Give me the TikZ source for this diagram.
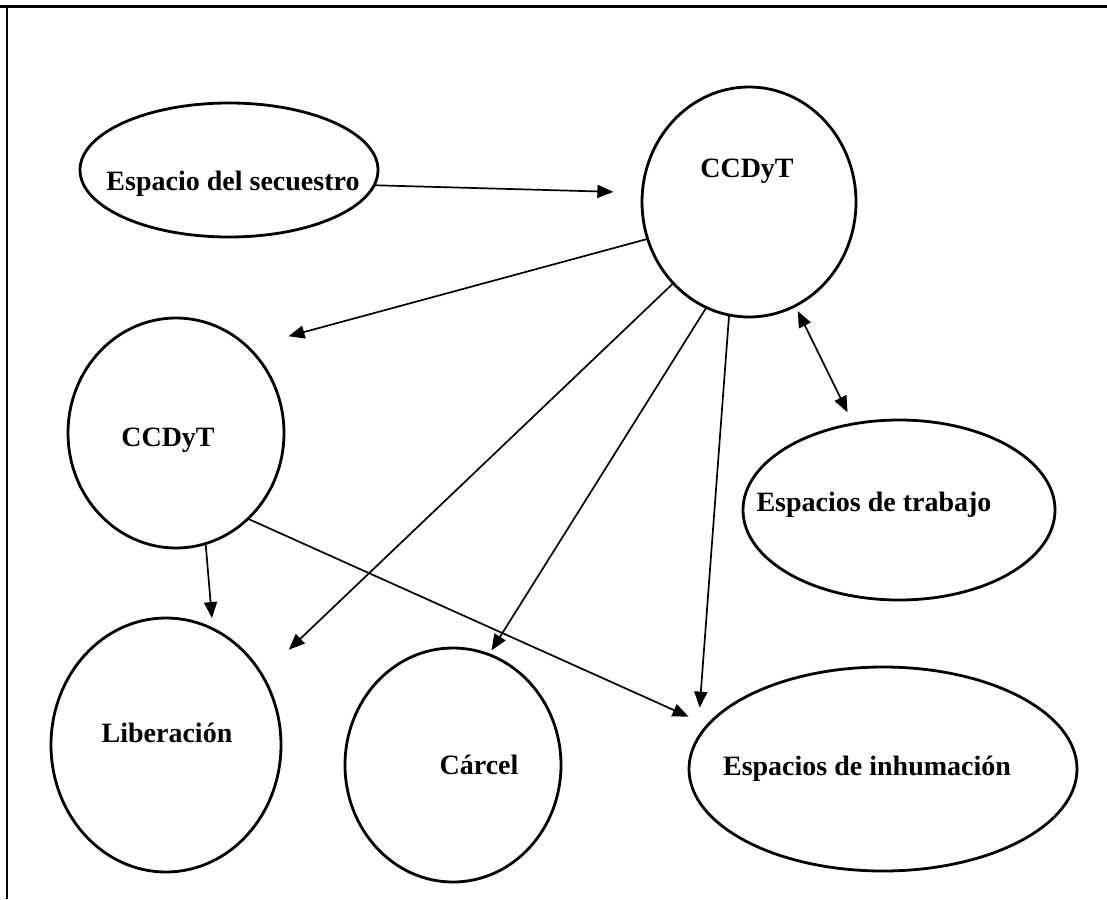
\documentclass[tikz,border=0pt]{standalone}
\usepackage{fontspec}
\setmainfont{Liberation Serif}
\usetikzlibrary{shapes.geometric,arrows.meta}
\begin{document}
\begin{tikzpicture}[x=1pt,y=-1pt,
  place/.style={ellipse,draw,line width=2.8pt,inner sep=0pt,outer sep=0pt},
  lbl/.style={font=\fontsize{28}{32}\selectfont\bfseries,anchor=base,inner sep=0pt},
  tipb/.style={line width=1.7pt},
  conn/.style={tipb,-{Triangle[length=16pt,width=13pt]}},
  dconn/.style={tipb,{Triangle[length=16pt,width=13pt]}-{Triangle[length=16pt,width=13pt]}},
]
\useasboundingbox (0,0) rectangle (1107,899);
% frame
\coordinate (tl) at (0,7);
\coordinate (tr) at (1107,7);
\coordinate (lt) at (7,7);
\coordinate (lb) at (7,899);
\draw[line width=3pt] (tl) -- (tr);
\draw[line width=2.2pt] (lt) -- (lb);
% places
\node[place,minimum width=298pt,minimum height=134pt] (sec) at (229,170) {};
\node[place,minimum width=214pt,minimum height=230pt] (c1) at (749,202) {};
\node[place,minimum width=216pt,minimum height=230pt] (c2) at (176,433) {};
\node[place,minimum width=312pt,minimum height=180pt] (trab) at (899,510) {};
\node[place,minimum width=230pt,minimum height=254pt] (lib) at (166,745) {};
\node[place,minimum width=216pt,minimum height=234pt] (car) at (453,765) {};
\node[place,minimum width=388pt,minimum height=204pt] (inh) at (883,769) {};
% labels
\node[lbl] (secT) at (233,190) {Espacio del secuestro};
\node[lbl] (c1T) at (747,177) {CCDyT};
\node[lbl] (c2T) at (168,446) {CCDyT};
\node[lbl] (trabT) at (874,511) {Espacios de trabajo};
\node[lbl] (libT) at (167,742) {Liberación};
\node[lbl] (carT) at (479,774) {Cárcel};
\node[lbl] (inhT) at (867,775) {Espacios de inhumación};
% connectors
\draw[conn,shorten >=29pt] (sec.354) -- (c1.175);
\draw[conn,shorten >=42pt] (c1.200) -- (c2.50);
\draw[conn,shorten >=37pt] (c1.227) -- (lib.36);
\draw[conn,shorten >=5pt] (c1.248) -- (car.72);
\draw[conn,shorten >=32pt] (c1.260) -- (inh.171);
\draw[conn,shorten >=21pt] (c2.310) -- (inh.166);
\draw[conn,shorten >=11pt] (c2.285) -- (lib.68);
\draw[dconn,shorten <=6pt,shorten >=13pt] (c1.294) -- (trab.118);
\end{tikzpicture}
\end{document}
